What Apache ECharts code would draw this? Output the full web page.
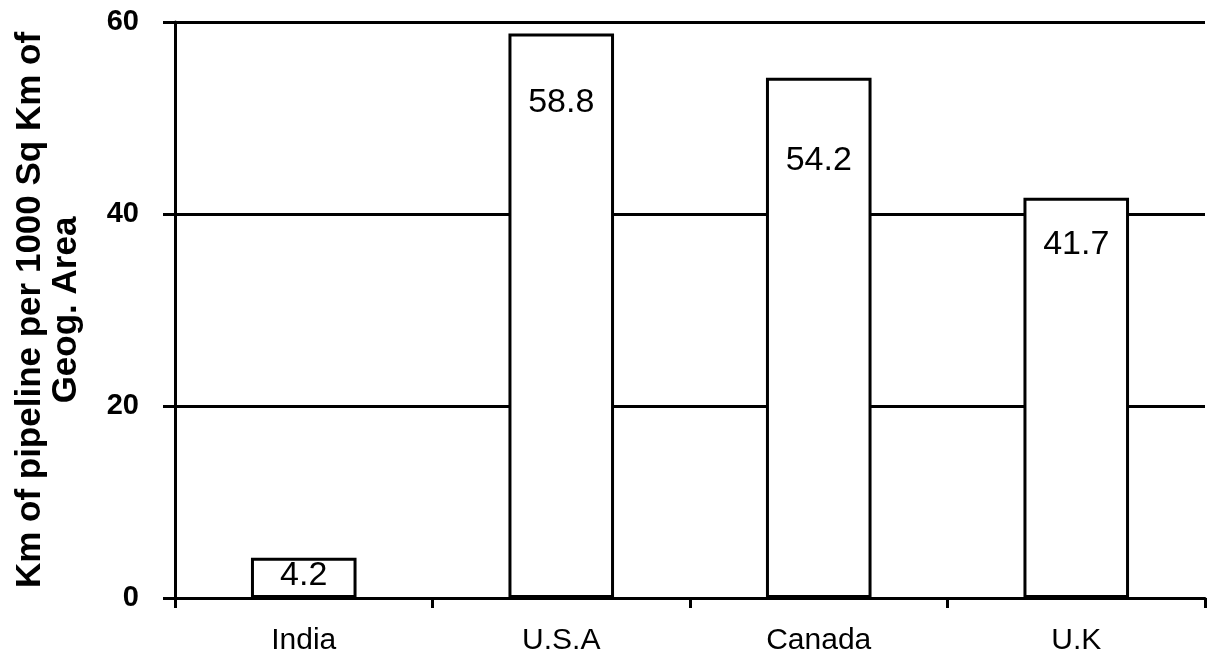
<!DOCTYPE html>
<html>
<head>
<meta charset="utf-8">
<title>Pipeline density</title>
<script src="https://cdn.jsdelivr.net/npm/echarts@6/dist/echarts.min.js"></script>
<style>
  html, body { margin: 0; padding: 0; background: #ffffff; }
  #chart { width: 1216px; height: 658px; }
</style>
</head>
<body>
<div id="chart"></div>
<script>
// Km of pipeline per 1000 sq km of geographical area, by country
const countries = ['India', 'U.S.A', 'Canada', 'U.K'];
const pipelineDensity = [4.2, 58.8, 54.2, 41.7];
const yTicks = [0, 20, 40, 60];

// how far each value label sits below its bar top
const labelDrop = [1, 52, 66, 30];

const chart = echarts.init(document.getElementById('chart'));

chart.setOption({
  backgroundColor: '#ffffff',
  animation: false,
  grid: { left: 175, right: 11, top: 22, bottom: 60, outerBoundsMode: 'none' },
  xAxis: {
    type: 'category',
    data: countries,
    axisLine: { lineStyle: { color: '#000', width: 3 } },
    axisTick: { show: true, length: 10, lineStyle: { color: '#000', width: 3 } },
    axisLabel: {
      color: '#000',
      fontFamily: 'Liberation Sans, Arial, sans-serif',
      fontSize: 30,
      margin: 28
    }
  },
  yAxis: {
    type: 'value',
    min: yTicks[0],
    max: yTicks[yTicks.length - 1],
    interval: yTicks[1] - yTicks[0],
    name: 'Km of pipeline per 1000 Sq Km of\nGeog. Area',
    nameLocation: 'middle',
    nameGap: 91,
    nameTextStyle: {
      color: '#000',
      fontFamily: 'Liberation Sans, Arial, sans-serif',
      fontWeight: 'bold',
      fontSize: 35,
      lineHeight: 36
    },
    axisLine: { show: true, lineStyle: { color: '#000', width: 3 } },
    axisTick: { show: true, length: 12, lineStyle: { color: '#000', width: 3 } },
    axisLabel: {
      color: '#000',
      fontFamily: 'Liberation Sans, Arial, sans-serif',
      fontWeight: 'bold',
      fontSize: 29,
      margin: 36
    },
    splitLine: {
      show: true,
      lineStyle: { color: '#000', width: 3 }
    }
  },
  series: [{
    type: 'bar',
    barWidth: '41%',
    data: pipelineDensity.map((v, i) => ({
      value: v,
      label: { distance: labelDrop[i] }
    })),
    itemStyle: { color: '#ffffff', borderColor: '#000', borderWidth: 3 },
    label: {
      show: true,
      position: 'insideTop',
      color: '#000',
      fontFamily: 'Liberation Sans, Arial, sans-serif',
      fontSize: 34
    },
    z: 3
  }, {
    // dashed top border at the axis maximum
    type: 'line',
    data: [],
    markLine: {
      silent: true,
      symbol: 'none',
      label: { show: false },
      lineStyle: { color: '#000', type: [6, 5], width: 1.2 },
      data: [{ yAxis: yTicks[yTicks.length - 1] }]
    }
  }]
});
</script>
</body>
</html>
